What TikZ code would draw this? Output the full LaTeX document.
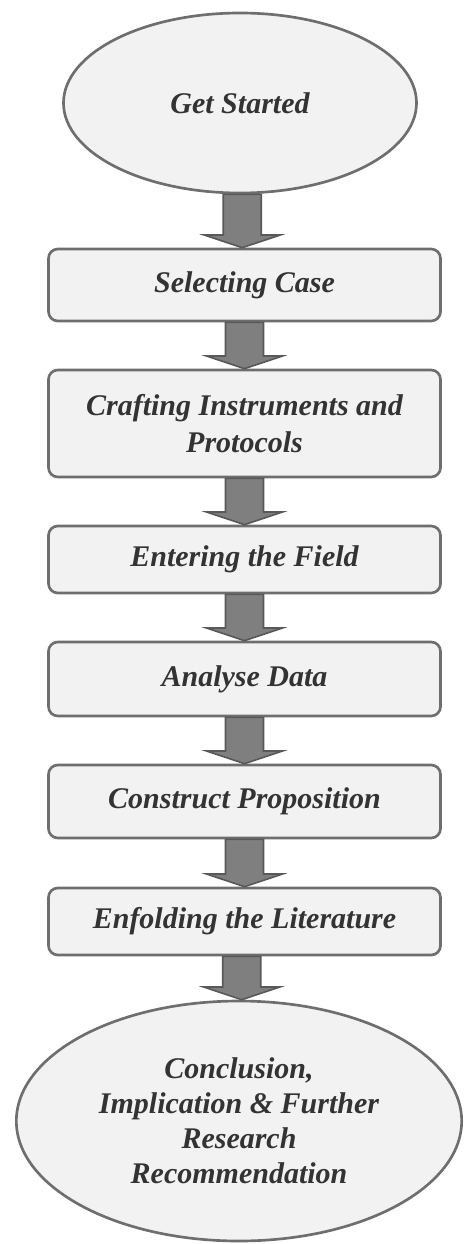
\documentclass[tikz,border=0pt]{standalone}
\usepackage{fontspec}
\setmainfont{Liberation Serif}
\usetikzlibrary{shapes.geometric, calc}
\definecolor{stagefill}{HTML}{F2F2F2}
\definecolor{stageline}{HTML}{6E6E6E}
\definecolor{arrowfill}{HTML}{7F7F7F}
\definecolor{arrowline}{HTML}{595959}
\newcommand{\stagefont}{\bfseries\itshape\fontsize{22.5}{27.75}\selectfont}
\tikzset{
  stage/.style={draw=stageline, line width=2pt, fill=stagefill, rounded corners=7pt,
    minimum width=294pt, align=center, font=\stagefont, text=black!80},
  terminal/.style={ellipse, draw=stageline, line width=2pt, fill=stagefill,
    align=center, font=\stagefont, text=black!80, inner sep=0pt},
  flowarrow/.style={draw=arrowline, fill=arrowfill, line width=1.2pt}
}
% block arrow from the bottom of one stage to the top of the next
\newcommand{\stagearrow}[2]{%
  \draw[flowarrow] let \p1=(#1.south), \p2=(#2.north),
      \p3=($(#1.south)!0.5!(#2.north)$) in
    (\x3-14.25pt,\y1) -- (\x3-14.25pt,\y2+9.5pt) -- (\x3-28.5pt,\y2+9.5pt)
    -- (\x3,\y2) -- (\x3+28.5pt,\y2+9.5pt) -- (\x3+14.25pt,\y2+9.5pt)
    -- (\x3+14.25pt,\y1) -- cycle;}

\begin{document}
\begin{tikzpicture}[x=0.75pt, y=-0.75pt]
  \useasboundingbox (0,0) rectangle (465,1244);
  \node[terminal, minimum width=264.75pt, minimum height=135pt]
    (START) at (240,103) {Get Started};
  \node[stage, minimum height=54pt] (SEL) at (244.5,285) {Selecting Case};
  \node[stage, minimum height=80.25pt] (CRAFT) at (244.5,423.5)
    {Crafting Instruments and\\Protocols};
  \node[stage, minimum height=50.25pt] (FIELD) at (244.5,559.5) {Entering the Field};
  \node[stage, minimum height=55.5pt] (DATA) at (244.5,679) {Analyse Data};
  \node[stage, minimum height=54.75pt] (PROP) at (244.5,801.5) {Construct Proposition};
  \node[stage, minimum height=50.25pt] (LIT) at (244.5,921.5) {Enfolding the Literature};
  \node[terminal, minimum width=334pt, minimum height=180pt,
    font=\bfseries\itshape\fontsize{22.5}{26.25}\selectfont]
    (END) at (239,1121)
    {Conclusion,\\Implication \& Further\\Research\\Recommendation};
  % flow of the stages
  \stagearrow{START}{SEL}
  \stagearrow{SEL}{CRAFT}
  \stagearrow{CRAFT}{FIELD}
  \stagearrow{FIELD}{DATA}
  \stagearrow{DATA}{PROP}
  \stagearrow{PROP}{LIT}
  \stagearrow{LIT}{END}
\end{tikzpicture}
\end{document}
